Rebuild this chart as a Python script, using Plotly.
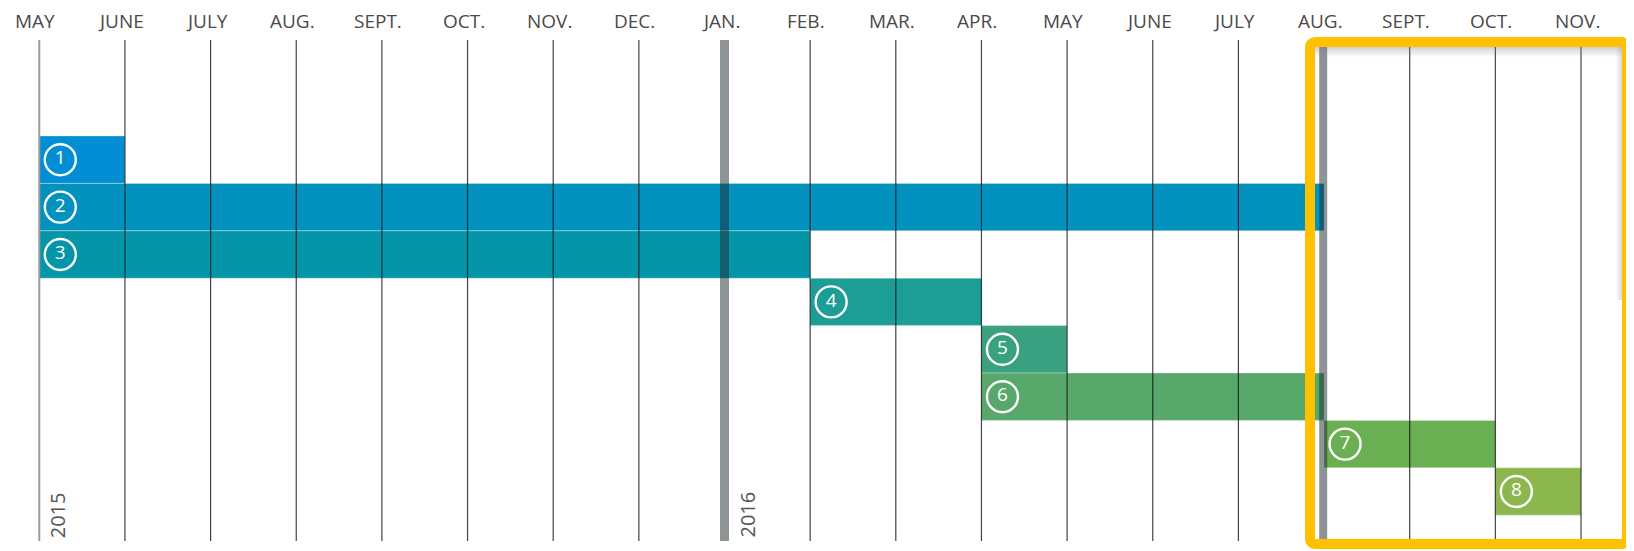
import plotly.graph_objects as go

# ---------------- data ----------------
months = ["MAY", "JUNE", "JULY", "AUG.", "SEPT.", "OCT.", "NOV.", "DEC.", "JAN.",
          "FEB.", "MAR.", "APR.", "MAY", "JUNE", "JULY", "AUG.", "SEPT.", "OCT.", "NOV."]
tasks = ["1", "2", "3", "4", "5", "6", "7", "8"]
starts = [0, 0, 0, 9, 11, 11, 15, 17]      # month index (0 = May 2015)
ends = [1, 15, 9, 11, 12, 15, 17, 18]
colors = ["#028ED4", "#0392BE", "#0496A8", "#1C9D96", "#3AA180", "#57A86A", "#6BAF53", "#8BB74D"]
years = ["2015", "2016"]
year_idx = [0, 8]
highlight_idx = 15   # Aug 2016 – start of highlighted period

# ---------------- geometry ----------------
PAGE = 8                       # default body margin of the html page
W, H = 1634 - PAGE, 551 - PAGE
X0PX, COLW = 39.3, 85.65       # page pixel of month 0, pixel width of a month
Y0PX, ROWH = 136, 47.4         # page pixel of row 0 top, pixel height of a row


def px2x(px):
    return (px - X0PX) / COLW


def py2paper(py):
    return 1 - (py - PAGE) / H


def px2paper(px):
    return (px - PAGE) / W


fig = go.Figure()

# bars
for i, t in enumerate(tasks):
    fig.add_trace(go.Bar(
        y=[i + 0.5], x=[ends[i] - starts[i]], base=[starts[i]],
        orientation="h", width=1.0,
        marker=dict(color=colors[i], line=dict(color="rgba(255,255,255,0.3)", width=1)),
        hoverinfo="skip", showlegend=False))

# circled numbers
off = 21 / COLW
fig.add_trace(go.Scatter(
    x=[s + off for s in starts], y=[i + 0.5 for i in range(len(tasks))],
    mode="markers+text", text=tasks, textposition="middle center",
    textfont=dict(color="white", size=19, family="Open Sans"),
    marker=dict(symbol="circle-open", size=31, color="white", line=dict(width=2.4, color="white")),
    hoverinfo="skip", showlegend=False))

shapes = []
annotations = []
ytop, ybot = py2paper(40), py2paper(541)
for i, m in enumerate(months):
    if i in year_idx and i == 0:
        shapes.append(dict(type="line", xref="x", yref="paper", x0=i, x1=i, y0=ytop, y1=ybot,
                           line=dict(color="#9a9a9a", width=2), layer="above"))
    elif i in year_idx:
        shapes.append(dict(type="line", xref="x", yref="paper", x0=i, x1=i, y0=ytop, y1=ybot,
                           line=dict(color="rgba(30,40,45,0.5)", width=9), layer="above"))
    elif i == highlight_idx:
        shapes.append(dict(type="line", xref="x", yref="paper", x0=i - 0.01, x1=i - 0.01,
                           y0=py2paper(47), y1=py2paper(544),
                           line=dict(color="rgba(30,40,45,0.5)", width=8), layer="above"))
    else:
        shapes.append(dict(type="line", xref="x", yref="paper", x0=i, x1=i,
                           y0=py2paper(47) if i > highlight_idx else ytop, y1=ybot,
                           line=dict(color="rgba(20,20,20,0.8)", width=1.2), layer="above"))
    annotations.append(dict(x=i, y=py2paper(35), xref="x", yref="paper", text=m, showarrow=False,
                            xshift=-4, borderpad=0,
                            font=dict(family="Open Sans", size=19, color="#4a4a4a"),
                            xanchor="center", yanchor="bottom"))

for yl, yi in zip(years, year_idx):
    annotations.append(dict(x=yi, y=py2paper(540), xref="x", yref="paper", text=yl, showarrow=False,
                            textangle=-90, xshift=18 if yi == 0 else 22,
                            font=dict(family="Open Sans", size=20, color="#555555"),
                            xanchor="center", yanchor="bottom"))

# inner shadow of highlight box
for k in range(10):
    a = 0.32 * (1 - k / 10)
    shapes.append(dict(type="line", xref="paper", yref="paper",
                       x0=px2paper(1315), x1=px2paper(1622),
                       y0=py2paper(47.5 + k), y1=py2paper(47.5 + k),
                       line=dict(color=f"rgba(120,120,120,{a:.3f})", width=1), layer="above"))
for k in range(6):
    a = 0.25 * (1 - k / 6)
    shapes.append(dict(type="line", xref="paper", yref="paper",
                       x0=px2paper(1621.5 - k), x1=px2paper(1621.5 - k),
                       y0=py2paper(47), y1=py2paper(300),
                       line=dict(color=f"rgba(120,120,120,{a:.3f})", width=1), layer="above"))

# highlight box (rounded)
bx0, bx1, by0, by1, r = 1310, 1627, 42, 544, 6
def P(x, y):
    return f"{px2paper(x):.5f},{py2paper(y):.5f}"
path = (f"M {P(bx0 + r, by0)} L {P(bx1 - r, by0)} Q {P(bx1, by0)} {P(bx1, by0 + r)} "
        f"L {P(bx1, by1 - r)} Q {P(bx1, by1)} {P(bx1 - r, by1)} "
        f"L {P(bx0 + r, by1)} Q {P(bx0, by1)} {P(bx0, by1 - r)} "
        f"L {P(bx0, by0 + r)} Q {P(bx0, by0)} {P(bx0 + r, by0)} Z")
shapes.append(dict(type="path", xref="paper", yref="paper", path=path,
                   line=dict(color="#FFC000", width=10), layer="above"))

fig.update_layout(
    width=W, height=H, margin=dict(l=0, r=0, t=0, b=0),
    paper_bgcolor="white", plot_bgcolor="white",
    barmode="overlay",
    xaxis=dict(range=[px2x(PAGE), px2x(PAGE + W)], visible=False, fixedrange=True),
    yaxis=dict(range=[(H + PAGE - Y0PX) / ROWH, (PAGE - Y0PX) / ROWH], visible=False, fixedrange=True),
    shapes=shapes, annotations=annotations,
)

fig.write_html("out.html")
